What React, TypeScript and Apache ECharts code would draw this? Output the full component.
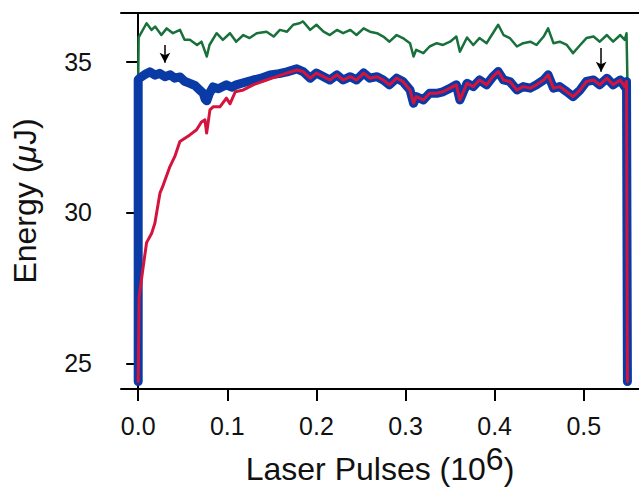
import React, { useEffect, useRef } from "react";
import * as echarts from "echarts";

// Green series (x in 10^6 pulses, energy in µJ)
const greenX = [0.0, 0.0005, 0.0094, 0.015, 0.019, 0.026, 0.032, 0.039, 0.047, 0.052, 0.058, 0.066, 0.071, 0.077, 0.08, 0.088, 0.095, 0.103, 0.11, 0.118, 0.125, 0.133, 0.144, 0.152, 0.159, 0.167, 0.174, 0.181, 0.185, 0.193, 0.2, 0.208, 0.215, 0.223, 0.23, 0.238, 0.245, 0.253, 0.26, 0.268, 0.275, 0.282, 0.29, 0.297, 0.305, 0.309, 0.312, 0.32, 0.327, 0.335, 0.342, 0.35, 0.357, 0.361, 0.369, 0.376, 0.383, 0.391, 0.398, 0.404, 0.41, 0.417, 0.425, 0.432, 0.44, 0.447, 0.455, 0.46, 0.466, 0.473, 0.481, 0.488, 0.496, 0.503, 0.511, 0.518, 0.526, 0.533, 0.541, 0.546, 0.548, 0.549];
const greenY = [34.4, 35.8, 36.27, 36.05, 36.16, 35.88, 36.1, 35.94, 36.05, 35.72, 35.72, 35.55, 35.66, 35.17, 35.55, 35.94, 35.72, 35.94, 35.66, 35.88, 35.78, 35.94, 35.99, 35.83, 36.05, 35.99, 36.22, 36.27, 36.33, 36.05, 36.22, 35.99, 35.88, 36.05, 35.94, 36.05, 35.88, 36.1, 35.99, 35.94, 35.83, 35.66, 35.88, 35.78, 35.61, 35.17, 35.39, 35.28, 35.5, 35.61, 35.55, 35.66, 35.83, 35.33, 35.8, 35.55, 35.78, 35.61, 35.94, 36.22, 35.88, 35.78, 35.5, 35.61, 35.66, 35.55, 35.83, 36.1, 35.61, 35.66, 35.55, 35.28, 35.55, 35.78, 35.83, 35.66, 35.88, 35.66, 35.88, 35.72, 35.94, 34.4];

// Blue series, first part (before it merges with red)
const blueHeadX = [0.0, 0.0, 0.002, 0.008, 0.013, 0.019, 0.024, 0.03, 0.036, 0.041, 0.047, 0.052, 0.058, 0.064, 0.069, 0.073, 0.075, 0.077, 0.08, 0.084, 0.09, 0.099, 0.105, 0.11, 0.118, 0.129, 0.138, 0.148, 0.158, 0.167, 0.178];
const blueHeadY = [24.4, 34.4, 34.46, 34.58, 34.66, 34.55, 34.61, 34.5, 34.56, 34.45, 34.49, 34.35, 34.28, 34.2, 34.06, 33.95, 33.76, 33.7, 33.95, 34.16, 34.1, 34.23, 34.15, 34.23, 34.3, 34.39, 34.45, 34.56, 34.6, 34.66, 34.76];

// Red series, first part (warm-up)
const redHeadX = [0.0, 0.001, 0.0056, 0.0094, 0.015, 0.0187, 0.0244, 0.028, 0.0356, 0.041, 0.0468, 0.058, 0.0655, 0.071, 0.0749, 0.0768, 0.0805, 0.084, 0.0917, 0.099, 0.103, 0.109, 0.118, 0.129, 0.144, 0.155, 0.167, 0.178];
const redHeadY = [24.4, 27.2, 28.2, 29.0, 29.3, 29.64, 30.64, 30.9, 31.52, 31.85, 32.35, 32.57, 32.74, 33.0, 33.07, 32.63, 33.4, 33.5, 33.5, 33.79, 33.6, 34.0, 34.06, 34.23, 34.39, 34.5, 34.62, 34.72];

// Shared tail where red and blue coincide
const tailX = [0.185, 0.193, 0.2, 0.208, 0.215, 0.223, 0.23, 0.238, 0.245, 0.253, 0.26, 0.268, 0.275, 0.282, 0.29, 0.297, 0.305, 0.309, 0.312, 0.32, 0.327, 0.335, 0.342, 0.35, 0.357, 0.361, 0.369, 0.376, 0.383, 0.391, 0.398, 0.404, 0.41, 0.417, 0.425, 0.432, 0.44, 0.447, 0.455, 0.46, 0.466, 0.473, 0.481, 0.488, 0.496, 0.503, 0.511, 0.518, 0.526, 0.533, 0.541, 0.546, 0.548, 0.549];
const tailY = [34.67, 34.45, 34.62, 34.5, 34.39, 34.56, 34.39, 34.5, 34.39, 34.62, 34.45, 34.5, 34.39, 34.23, 34.45, 34.34, 34.06, 33.62, 33.84, 33.73, 33.95, 33.95, 34.0, 34.12, 34.23, 33.73, 34.28, 34.17, 34.39, 34.23, 34.5, 34.67, 34.39, 34.34, 34.06, 34.17, 34.12, 34.23, 34.39, 34.56, 34.12, 34.17, 34.0, 33.84, 34.06, 34.34, 34.39, 34.23, 34.45, 34.23, 34.39, 34.17, 34.34, 24.4];

// Arrows: [x, yStart, yEnd]
const arrows = [
  [0.03, 35.55, 34.96],
  [0.5195, 35.45, 34.66],
];

const xTicks = [0, 0.1, 0.2, 0.3, 0.4, 0.5];
const yTicks = [25, 30, 35];

const zip = (xs: number[], ys: number[]) => xs.map((x, i) => [x, ys[i]]);

const FONT = "Liberation Sans, Arial, Helvetica, sans-serif";

export default function App() {
  const ref = useRef<HTMLDivElement>(null);
  useEffect(() => {
    if (!ref.current) return;
    const chart = echarts.init(ref.current, null, { renderer: "svg" });
    const xMin = -0.0193;
    const xMax = 0.562;
    const axisLine = { show: true, lineStyle: { color: "#000", width: 2 } };
    chart.setOption({
      animation: false,
      backgroundColor: "#fff",
      grid: { left: 121, right: 0, top: 13, bottom: 101 },
      xAxis: [
        {
          type: "value",
          min: xMin,
          max: xMax,
          position: "bottom",
          axisLine,
          axisTick: { show: true, length: 12, lineStyle: { color: "#000", width: 2 }, customValues: xTicks },
          axisLabel: {
            customValues: xTicks,
            fontSize: 25,
            fontFamily: FONT,
            color: "#111",
            margin: 24,
            formatter: (v: number) => v.toFixed(1),
          },
          splitLine: { show: false },
          name: "{a|Laser Pulses (10}{s|6}{a|)}",
          nameLocation: "middle",
          nameGap: 54,
          nameTextStyle: {
            fontFamily: FONT,
            color: "#111",
            rich: {
              a: { fontSize: 32, fontFamily: FONT, color: "#111", verticalAlign: "bottom" },
              s: { fontSize: 32, fontFamily: FONT, color: "#111", verticalAlign: "bottom", padding: [0, 0, 10, 0] },
            },
          },
        },
        {
          type: "value",
          min: xMin,
          max: xMax,
          position: "top",
          axisLine,
          axisTick: { show: false },
          axisLabel: { show: false },
          splitLine: { show: false },
        },
      ],
      yAxis: {
        type: "value",
        min: 24.15,
        max: 36.61,
        axisLine,
        axisTick: { show: true, length: 12, lineStyle: { color: "#000", width: 2 }, customValues: yTicks },
        axisLabel: { customValues: yTicks, fontSize: 25, fontFamily: FONT, color: "#111", margin: 29 },
        splitLine: { show: false },
        name: "{a|Energy (}{i|μ}{a|J)}",
        nameLocation: "middle",
        nameGap: 80,
        nameTextStyle: {
          fontFamily: FONT,
          color: "#111",
          rich: {
            a: { fontSize: 32, fontFamily: FONT, color: "#111" },
            i: { fontSize: 32, fontFamily: FONT, color: "#111", fontStyle: "italic" },
          },
        },
      },
      series: [
        {
          type: "line",
          name: "green",
          data: zip(greenX, greenY),
          showSymbol: false,
          symbol: "none",
          lineStyle: { color: "#18703a", width: 2.5, join: "round" },
          z: 2,
        },
        {
          type: "line",
          name: "blue",
          data: zip([...blueHeadX, ...tailX], [...blueHeadY, ...tailY]),
          showSymbol: false,
          symbol: "none",
          lineStyle: { color: "#0a3aa6", width: 9, cap: "round", join: "round" },
          z: 3,
          markLine: {
            silent: true,
            symbol: ["none", "arrow"],
            symbolSize: [8, 10],
            label: { show: false },
            lineStyle: { color: "#000", width: 1.5, type: "solid" },
            data: arrows.map((a) => [
              { coord: [a[0], a[1]] },
              { coord: [a[0], a[2]] },
            ]),
          },
        },
        {
          type: "line",
          name: "red",
          data: zip([...redHeadX, ...tailX], [...redHeadY, ...tailY]),
          showSymbol: false,
          symbol: "none",
          lineStyle: { color: "#d4143c", width: 3, cap: "round", join: "round" },
          z: 4,
        },
      ],
    });
    return () => chart.dispose();
  }, []);
  return (
    <div
      ref={ref}
      style={{ position: "absolute", left: 0, top: 0, width: 639, height: 490 }}
    />
  );
}
